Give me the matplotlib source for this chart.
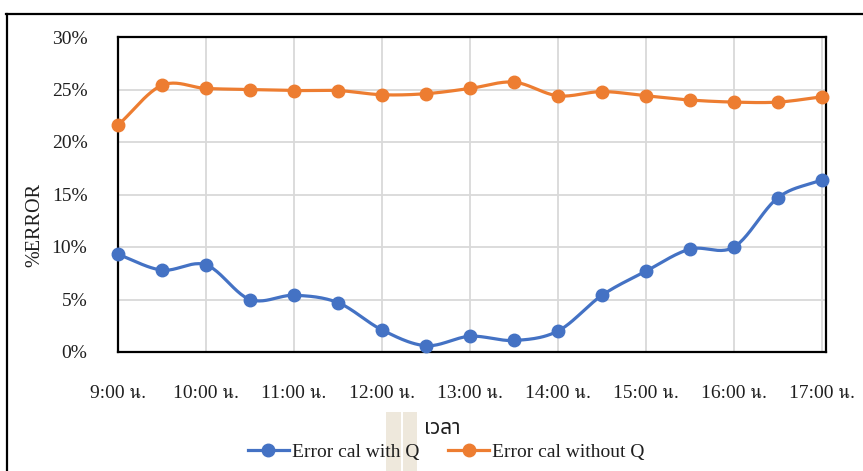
import matplotlib
matplotlib.use("Agg")
import numpy as np
import matplotlib.pyplot as plt
from matplotlib.lines import Line2D
from matplotlib.patches import Rectangle
from matplotlib.ticker import FuncFormatter, MultipleLocator

# Measurement times (every 30 minutes)
times = ["9:00", "9:30", "10:00", "10:30", "11:00", "11:30", "12:00", "12:30",
         "13:00", "13:30", "14:00", "14:30", "15:00", "15:30", "16:00", "16:30", "17:00"]

# Percentage error of each calculation method
error_with_q = [9.3, 7.8, 8.3, 5.0, 5.4, 4.7, 2.1, 0.6, 1.5, 1.1, 2.0, 5.4,
                7.7, 9.8, 10.0, 14.7, 16.4]
error_without_q = [21.6, 25.4, 25.1, 25.0, 24.9, 24.9, 24.5, 24.6, 25.1, 25.7,
                   24.4, 24.8, 24.4, 24.0, 23.8, 23.8, 24.3]

# Hourly tick labels
hour_ticks = ["9:00", "10:00", "11:00", "12:00", "13:00", "14:00", "15:00", "16:00", "17:00"]
tick_suffix = " น."

series_names = ["Error cal with Q", "Error cal without Q"]
colors = ["#4472C4", "#ED7D31"]


def to_hours(label):
    h, m = label.split(":")
    return int(h) + int(m) / 60.0


def smooth(x, y, steps=24):
    """Catmull-Rom curve through the points (like a spreadsheet 'smoothed line')."""
    x = np.asarray(x, float)
    y = np.asarray(y, float)
    px = np.concatenate([[2 * x[0] - x[1]], x, [2 * x[-1] - x[-2]]])
    py = np.concatenate([[2 * y[0] - y[1]], y, [2 * y[-1] - y[-2]]])
    xs, ys = [], []
    t = np.linspace(0, 1, steps, endpoint=False)
    for i in range(1, len(px) - 2):
        for arr, out in ((px, xs), (py, ys)):
            p0, p1, p2, p3 = arr[i - 1], arr[i], arr[i + 1], arr[i + 2]
            out.extend(0.5 * ((2 * p1) + (-p0 + p2) * t
                              + (2 * p0 - 5 * p1 + 4 * p2 - p3) * t ** 2
                              + (-p0 + 3 * p1 - 3 * p2 + p3) * t ** 3))
    xs.append(x[-1])
    ys.append(y[-1])
    return np.array(xs), np.array(ys)


serif = ["Liberation Serif", "FreeSerif"]
text_color = "#1F1F1F"

W, H = 863, 471
fig = plt.figure(figsize=(W / 100, H / 100), dpi=100)
fig.patch.set_facecolor("white")

# Outer chart frame (top and left edges)
fig.add_artist(Line2D([6 / W, 1.0], [1 - 13.5 / H] * 2, color="black", lw=1.6,
                      transform=fig.transFigure))
fig.add_artist(Line2D([6.5 / W] * 2, [0.0, 1 - 13.5 / H], color="black", lw=1.6,
                      transform=fig.transFigure))

# Two light highlight strips behind the legend
for x0, x1 in ((386, 401), (403, 417)):
    fig.add_artist(Rectangle((x0 / W, 0), (x1 - x0) / W, 1 - 412 / H,
                             transform=fig.transFigure, facecolor="#EEE8DC",
                             edgecolor="none", zorder=0))

left, right, top, bottom = 118, 826, 37, 352
ax = fig.add_axes([left / W, 1 - bottom / H, (right - left) / W, (bottom - top) / H])

x = [to_hours(t) for t in times]
handles = []
for vals, name, col in zip([error_with_q, error_without_q], series_names, colors):
    sx, sy = smooth(x, vals)
    ax.plot(sx, sy, color=col, lw=2.3, solid_capstyle="round", zorder=3, clip_on=False)
    ax.plot(x, vals, "o", color=col, ms=9, zorder=4, clip_on=False)
    handles.append(Line2D([], [], color=col, lw=2.3, marker="o", ms=9))

ax.set_ylim(0, 30)
ax.set_xlim(9, 17 + 4 / 88)
ax.yaxis.set_major_locator(MultipleLocator(5))
ax.yaxis.set_major_formatter(FuncFormatter(lambda v, p: f"{v:.0f}%"))
ax.set_xticks([to_hours(h) for h in hour_ticks])
ax.set_xticklabels([h + tick_suffix for h in hour_ticks])

ax.grid(True, color="#D9D9D9", lw=1.3, zorder=0)
ax.set_axisbelow(True)
for s in ax.spines.values():
    s.set_color("black")
    s.set_linewidth(1.6)

ax.tick_params(axis="both", length=0, labelsize=14, labelcolor=text_color)
ax.tick_params(axis="y", pad=22)
ax.tick_params(axis="x", pad=24)
for lab in ax.get_xticklabels() + ax.get_yticklabels():
    lab.set_fontfamily(serif)

fig.text(35 / W, 1 - 225 / H, "%ERROR", rotation=90, ha="center", va="center",
         fontsize=14.5, color=text_color, family=serif)
fig.text(442 / W, 1 - 429 / H, "เวลา", ha="center", va="center",
         fontsize=15, color=text_color, family=["Noto Sans Thai", "DejaVu Sans"])

leg = fig.legend(handles, series_names, loc="center", bbox_to_anchor=(446 / W, 1 - 452 / H),
                 ncol=2, frameon=False, handlelength=2.1, handletextpad=0.15,
                 columnspacing=1.5, borderpad=0, prop={"family": serif, "size": 14})
for t in leg.get_texts():
    t.set_color(text_color)

fig.savefig("out.png", dpi=100)
